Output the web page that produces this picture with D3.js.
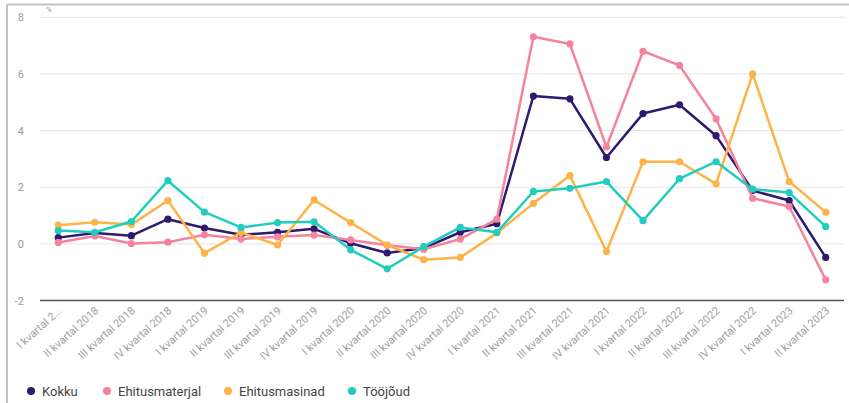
<!DOCTYPE html>
<html>
<head>
<meta charset="utf-8">
<script src="https://cdn.jsdelivr.net/npm/d3@7"></script>
<style>
  body { margin: 0; background: #fff; }
  svg { display: block; font-family: Roboto, "Noto Sans", sans-serif; }
</style>
</head>
<body>
<svg id="chart" width="849" height="403"></svg>
<script>
// quarters on the x axis
const quarters = [
  "I kvartal 2...", "II kvartal 2018", "III kvartal 2018", "IV kvartal 2018",
  "I kvartal 2019", "II kvartal 2019", "III kvartal 2019", "IV kvartal 2019",
  "I kvartal 2020", "II kvartal 2020", "III kvartal 2020", "IV kvartal 2020",
  "I kvartal 2021", "II kvartal 2021", "III kvartal 2021", "IV kvartal 2021",
  "I kvartal 2022", "II kvartal 2022", "III kvartal 2022", "IV kvartal 2022",
  "I kvartal 2023", "II kvartal 2023"
];

const yTicks = [-2, 0, 2, 4, 6, 8];

const kokku = [0.22, 0.38, 0.29, 0.87, 0.56, 0.32, 0.41, 0.53, 0.02, -0.32, -0.15,
               0.41, 0.71, 5.22, 5.12, 3.05, 4.6, 4.91, 3.82, 1.88, 1.53, -0.48];
const ehitusmaterjal = [0.05, 0.28, 0.01, 0.06, 0.32, 0.17, 0.25, 0.31, 0.14, -0.05, -0.19,
                        0.17, 0.87, 7.31, 7.06, 3.42, 6.8, 6.3, 4.41, 1.61, 1.32, -1.27];
const ehitusmasinad = [0.66, 0.76, 0.68, 1.53, -0.33, 0.4, -0.04, 1.55, 0.75, -0.04, -0.56,
                       -0.48, 0.38, 1.43, 2.41, -0.27, 2.9, 2.9, 2.12, 6.0, 2.2, 1.12];
const toojoud = [0.47, 0.41, 0.79, 2.23, 1.12, 0.58, 0.75, 0.78, -0.21, -0.88, -0.1,
                 0.58, 0.41, 1.85, 1.96, 2.2, 0.82, 2.3, 2.9, 1.93, 1.81, 0.61];

const seriesNames = ["Kokku", "Ehitusmaterjal", "Ehitusmasinad", "Tööjõud"];
const seriesColors = ["#2f1a70", "#f4849e", "#fdb347", "#21cdbd"];

const series = [kokku, ehitusmaterjal, ehitusmasinad, toojoud].map((v, i) => ({
  name: seriesNames[i], color: seriesColors[i], values: v
}));

const svg = d3.select("#chart");
const width = 849, height = 403;
const margin = {left: 40, right: 5, top: 17.3, bottom: 102.5};

// frame on left and top
svg.append("line")
  .attr("x1", 7).attr("x2", width).attr("y1", 4.5).attr("y2", 4.5)
  .attr("stroke", "#c4c4c4").attr("stroke-width", 2);
svg.append("line")
  .attr("x1", 7).attr("x2", 7).attr("y1", 4).attr("y2", height)
  .attr("stroke", "#c4c4c4").attr("stroke-width", 2);
svg.append("text")
  .attr("x", 46).attr("y", 12)
  .attr("font-size", 8).attr("fill", "#999")
  .text("%");

const x = d3.scalePoint()
  .domain(quarters)
  .range([margin.left, width - margin.right])
  .padding(0.5);

const y = d3.scaleLinear()
  .domain([-2, 8])
  .range([height - margin.bottom, margin.top]);

// gridlines
svg.append("g").selectAll("line")
  .data(yTicks.filter(d => d !== -2))
  .join("line")
  .attr("x1", margin.left).attr("x2", width - margin.right)
  .attr("y1", d => y(d)).attr("y2", d => y(d))
  .attr("stroke", "#e3e3e3").attr("stroke-width", 1);

// y labels
const yAxis = d3.axisLeft(y).tickValues(yTicks).tickSize(0).tickPadding(0)
  .tickFormat(d => String(d));
const gY = svg.append("g")
  .attr("transform", "translate(24,0)")
  .call(yAxis);
gY.select(".domain").remove();
gY.selectAll("text")
  .attr("font-family", "Roboto, sans-serif")
  .attr("font-size", 11)
  .attr("fill", "#999");

// x axis
const xAxis = d3.axisBottom(x).tickSize(0).tickPadding(0);
const gX = svg.append("g")
  .attr("transform", `translate(0,${y(-2)})`)
  .call(xAxis);
gX.select(".domain")
  .attr("d", `M${margin.left},0H${width - margin.right}`)
  .attr("stroke", "#555").attr("stroke-width", 1.5);
gX.selectAll("text")
  .attr("font-family", "Roboto, sans-serif")
  .attr("font-size", 11)
  .attr("fill", "#a0a0a0")
  .attr("text-anchor", "end")
  .attr("dy", null)
  .attr("transform", "translate(4,11) rotate(-42)");

// lines
const line = d3.line()
  .x((d, i) => x(quarters[i]))
  .y(d => y(d));

const gS = svg.append("g").selectAll("g")
  .data(series)
  .join("g");

gS.append("path")
  .attr("fill", "none")
  .attr("stroke", d => d.color)
  .attr("stroke-width", 2.5)
  .attr("stroke-linejoin", "round")
  .attr("d", d => line(d.values));

gS.selectAll("circle")
  .data(d => d.values.map((v, i) => ({v, i, color: d.color})))
  .join("circle")
  .attr("cx", d => x(quarters[d.i]))
  .attr("cy", d => y(d.v))
  .attr("r", 3.6)
  .attr("fill", d => d.color);

// legend
const legendX = [31, 107, 228, 352];
const legend = svg.append("g").selectAll("g")
  .data(series)
  .join("g")
  .attr("transform", (d, i) => `translate(${legendX[i]},391)`);
legend.append("circle")
  .attr("r", 4)
  .attr("fill", d => d.color);
legend.append("text")
  .attr("x", 11)
  .attr("dy", "0.35em")
  .attr("font-size", 13)
  .attr("fill", "#444")
  .text(d => d.name);
</script>
</body>
</html>
